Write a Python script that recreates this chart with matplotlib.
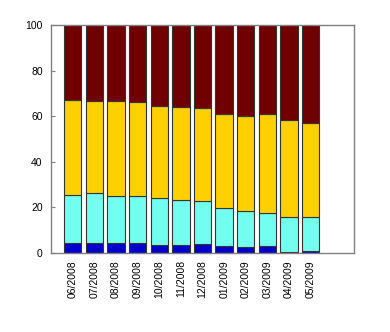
import matplotlib
matplotlib.use("Agg")
import matplotlib.pyplot as plt
import numpy as np

months = ["06/2008", "07/2008", "08/2008", "09/2008", "10/2008", "11/2008",
          "12/2008", "01/2009", "02/2009", "03/2009", "04/2009", "05/2009"]
# cumulative tops
blue_top   = [4.5, 4.4, 4.2, 4.2, 3.7, 3.7, 4.1, 2.9, 2.6, 3.2, 0.4, 0.7]
cyan_top   = [25.6, 26.5, 25.2, 25.2, 24.0, 23.3, 22.8, 19.9, 18.6, 17.7, 16.0, 15.7]
yellow_top = [67.2, 66.6, 66.5, 66.3, 64.6, 64.1, 63.8, 61.1, 60.3, 61.1, 58.3, 57.1]
total = [100] * 12

blue = np.array(blue_top)
cyan = np.array(cyan_top) - blue
yellow = np.array(yellow_top) - np.array(cyan_top)
red = np.array(total) - np.array(yellow_top)

colors = ["#0000cc", "#73fff0", "#ffd000", "#700000"]

plt.rcParams['font.family'] = ['Liberation Sans', 'DejaVu Sans']
fig = plt.figure(figsize=(3.9, 3.32), dpi=100)
ax = fig.add_axes([51/390, 79/332, 303/390, 228/332])
x = np.arange(1, 13)
bottom = np.zeros(12)
for vals, c in zip([blue, cyan, yellow, red], colors):
    ax.bar(x, vals, width=0.8, bottom=bottom, color=c, edgecolor="#333333", linewidth=0.8)
    bottom = bottom + vals

ax.set_xlim(0, 14)
ax.set_ylim(0, 100)
ax.set_xticks(x)
ax.set_xticklabels(months, rotation=90, fontsize=7.5)
ax.set_yticks([0, 20, 40, 60, 80, 100])
ax.tick_params(axis='y', labelsize=7.5, direction='in', length=3, color='#808080', pad=6)
ax.tick_params(axis='x', direction='in', length=0, pad=5)
for s in ax.spines.values():
    s.set_color('#808080')
    s.set_linewidth(1.0)
fig.savefig("out.png", dpi=100)
